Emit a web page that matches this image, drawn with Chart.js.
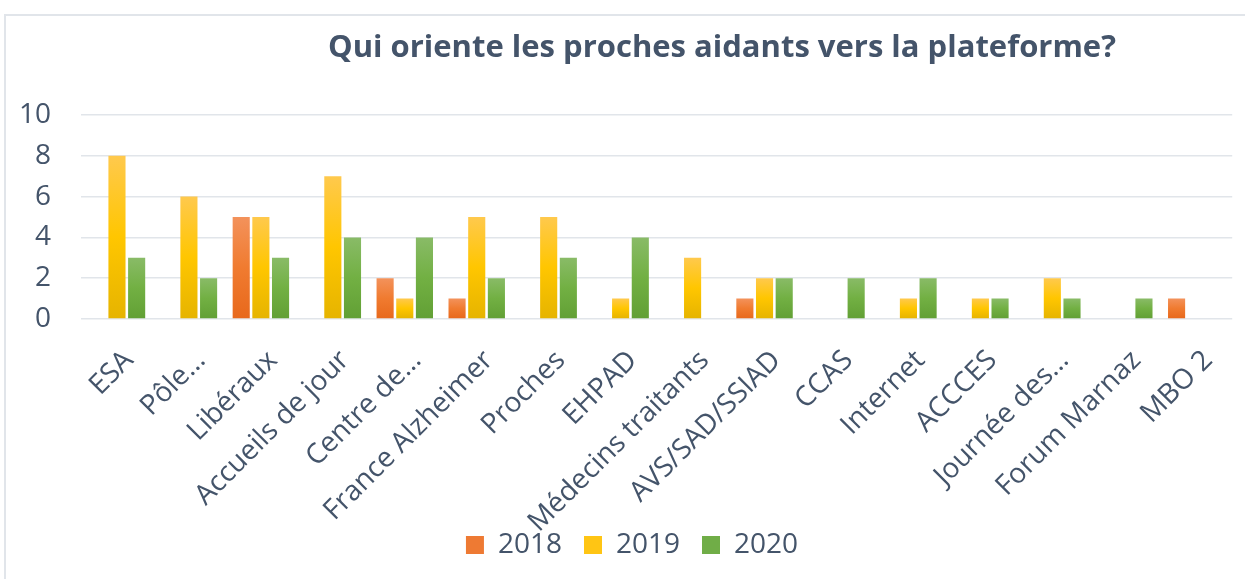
<!DOCTYPE html>
<html>
<head>
<meta charset="utf-8">
<script src="https://cdn.jsdelivr.net/npm/chart.js@4/dist/chart.umd.min.js"></script>
<style>
  html, body { margin: 0; padding: 0; background: #fff; overflow: hidden; }
  #wrap { position: relative; width: 1245px; height: 579px; }
  #frame { position: absolute; left: 4px; top: 14px; width: 1300px; height: 600px;
           border-top: 2px solid #e1e5ea; border-left: 2px solid #e1e5ea; }
  #title { position: absolute; left: 122px; width: 1200px; top: 25px; text-align: center;
           font-family: "Open Sans", sans-serif; font-weight: bold; font-size: 31px; color: #44546a; line-height: 40px; }
  #c { position: absolute; left: 0; top: 0; }
</style>
</head>
<body>
<div id="wrap">
  <div id="frame"></div>
  <canvas id="c" width="1245" height="579"></canvas>
  <div id="title">Qui oriente les proches aidants vers la plateforme?</div>
</div>
<script>
const categories = ["ESA", "Pôle…", "Libéraux", "Accueils de jour", "Centre de…", "France Alzheimer", "Proches", "EHPAD",
  "Médecins traitants", "AVS/SAD/SSIAD", "CCAS", "Internet", "ACCCES", "Journée des…", "Forum Marnaz", "MBO 2"];
const seriesNames = ["2018", "2019", "2020"];
const values2018 = [0, 0, 5, 0, 2, 1, 0, 0, 0, 1, 0, 0, 0, 0, 0, 1];
const values2019 = [8, 6, 5, 7, 1, 5, 5, 1, 3, 2, 0, 1, 1, 2, 0, 0];
const values2020 = [3, 2, 3, 4, 4, 2, 3, 4, 0, 2, 2, 2, 1, 1, 1, 0];
const yTicks = [0, 2, 4, 6, 8, 10];

const STOPS = [
  [[0, "#f3925b"], [0.5, "#f07b30"], [1, "#e8691c"]],
  [[0, "#ffc94d"], [0.5, "#ffc600"], [1, "#e6b400"]],
  [[0, "#89bb67"], [0.5, "#72b043"], [1, "#62a035"]]
];
const SOLID = ["#ee7a33", "#ffc514", "#70ad47"];

const gradPlugin = {
  id: 'barGrad',
  afterLayout(chart) {
    // let the rotated category labels run below the axis box without clipping
    chart.scales.x.bottom = chart.height;
  },
  beforeDatasetsDraw(chart) {
    const ctx = chart.ctx;
    chart.data.datasets.forEach((ds, i) => {
      const meta = chart.getDatasetMeta(i);
      meta.data.forEach(el => {
        const top = Math.min(el.y, el.base), bot = Math.max(el.y, el.base);
        if (bot - top < 0.5) return;
        const g = ctx.createLinearGradient(0, top, 0, bot);
        STOPS[i].forEach(([o, c]) => g.addColorStop(o, c));
        el.options = Object.assign({}, el.options, { backgroundColor: g });
      });
    });
  }
};

const textColor = "#44546a";
const font = { family: "'Open Sans', sans-serif", size: 28 };

new Chart(document.getElementById('c'), {
  type: 'bar',
  data: {
    labels: categories,
    datasets: [values2018, values2019, values2020].map((v, i) => ({
      label: seriesNames[i],
      data: v,
      backgroundColor: SOLID[i],
      borderWidth: 0,
      categoryPercentage: 0.82,
      barPercentage: 0.87
    }))
  },
  options: {
    responsive: false,
    animation: false,
    layout: { padding: { top: 115, left: 19, right: 0, bottom: 10 } },
    scales: {
      x: {
        grid: { display: false, drawTicks: false },
        border: { display: false },
        ticks: { color: textColor, font: font, maxRotation: 45, minRotation: 45, padding: 25, labelOffset: 12, autoSkip: false },
        afterFit(axis) { axis.height = axis.height - 37; }
      },
      y: {
        min: 0, max: 10,
        afterBuildTicks(axis) { axis.ticks = yTicks.map(v => ({ value: v })); },
        afterFit(axis) { axis.width = 62; },
        grid: { color: "#e1e5ea", lineWidth: 1.5, drawTicks: false },
        border: { display: false },
        ticks: { color: textColor, font: font, padding: 30, autoSkip: false }
      }
    },
    plugins: {
      legend: {
        position: 'bottom',
        labels: { color: textColor, font: font, boxWidth: 18, boxHeight: 18, padding: 22 }
      },
      title: { display: false },
      tooltip: { enabled: false }
    }
  },
  plugins: [gradPlugin]
});
</script>
</body>
</html>
